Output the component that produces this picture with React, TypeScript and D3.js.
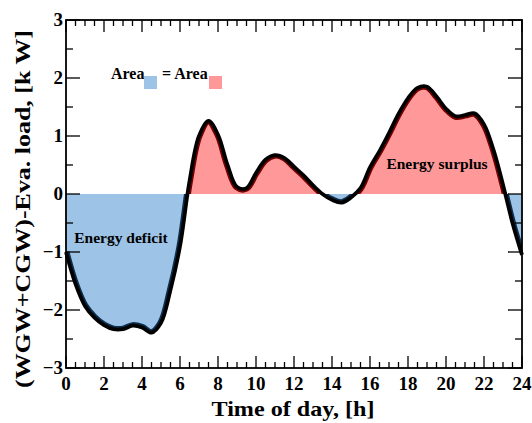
import { useMemo } from "react";
import * as d3 from "d3";

const hours = [
  0, 0.5, 1, 1.5, 2, 2.5, 3, 3.5, 4, 4.5, 5, 5.5, 6, 6.5, 7, 7.5, 8, 8.5, 9, 9.5, 10, 10.5, 11, 11.5,
  12, 12.5, 13, 13.5, 14, 14.5, 15, 15.5, 16, 16.5, 17, 17.5, 18, 18.5, 19, 19.5, 20, 20.5, 21, 21.5,
  22, 22.5, 23, 23.5, 24,
];
const loadKW = [
  -1.0, -1.55, -1.93, -2.13, -2.26, -2.33, -2.33, -2.27, -2.3, -2.39, -2.22, -1.65, -0.9, 0.22, 1.0,
  1.26, 1.02, 0.5, 0.12, 0.1, 0.36, 0.59, 0.67, 0.62, 0.47, 0.32, 0.15, 0.0, -0.1, -0.15, -0.06, 0.1,
  0.46, 0.74, 1.05, 1.38, 1.65, 1.83, 1.85, 1.68, 1.47, 1.34, 1.36, 1.39, 1.2, 0.76, 0.16, -0.5, -1.05,
];
const xTicks = [0, 2, 4, 6, 8, 10, 12, 14, 16, 18, 20, 22, 24];
const yTicks = [-3, -2, -1, 0, 1, 2, 3];

const W = 532;
const H = 423;
const m = { left: 66, right: 10, top: 20, bottom: 55 };
const BLUE = "#9dc3e6";
const RED = "#ff9999";
const FONT = "'Liberation Serif', 'Times New Roman', serif";

export default function App() {
  const x = useMemo(() => d3.scaleLinear().domain([0, 24]).range([m.left, W - m.right]), []);
  const y = useMemo(() => d3.scaleLinear().domain([-3, 3]).range([H - m.bottom, m.top]), []);
  const pts = hours.map((h, i) => [h, loadKW[i]] as [number, number]);

  const area = d3
    .area<[number, number]>()
    .x((d) => x(d[0]))
    .y0(y(0))
    .y1((d) => y(d[1]))
    .curve(d3.curveCatmullRom.alpha(0.5));
  const line = d3
    .line<[number, number]>()
    .x((d) => x(d[0]))
    .y((d) => y(d[1]))
    .curve(d3.curveCatmullRom.alpha(0.5));

  const areaD = area(pts) ?? "";
  const lineD = line(pts) ?? "";
  const x0 = x(0), x1 = x(24), yT = y(3), yB = y(-3), yZ = y(0);
  const xMinor = d3.range(0, 24.01, 0.5).filter((v) => v % 2 !== 0);
  const yMinor = d3.range(-3, 3.01, 0.5).filter((v) => v % 1 !== 0);

  return (
    <svg width={W} height={H} style={{ position: "absolute", left: 0, top: 0 }} fontFamily={FONT}>
      <defs>
        <clipPath id="above">
          <rect x={x0} y={yT} width={x1 - x0} height={yZ - yT} />
        </clipPath>
        <clipPath id="below">
          <rect x={x0} y={yZ} width={x1 - x0} height={yB - yZ} />
        </clipPath>
        <clipPath id="inside">
          <path d={areaD} />
        </clipPath>
      </defs>

      {/* fills, with a dark inner edge along the curve */}
      <g clipPath="url(#above)">
        <path d={areaD} fill={RED} />
        <path d={lineD} fill="none" stroke="#7a0000" strokeWidth={7} clipPath="url(#inside)" />
      </g>
      <g clipPath="url(#below)">
        <path d={areaD} fill={BLUE} />
        <path d={lineD} fill="none" stroke="#0c2f4f" strokeWidth={7} clipPath="url(#inside)" />
      </g>
      <path d={lineD} fill="none" stroke="#000" strokeWidth={3.8} strokeLinejoin="round" />

      {/* frame */}
      <rect x={x0} y={yT} width={x1 - x0} height={yB - yT} fill="none" stroke="#000" strokeWidth={1.8} />

      {/* x ticks */}
      {xTicks.map((t) => (
        <g key={`xt${t}`}>
          <line x1={x(t)} x2={x(t)} y1={yB} y2={yB - 12} stroke="#000" strokeWidth={1.3} />
          <line x1={x(t)} x2={x(t)} y1={yT} y2={yT + 12} stroke="#000" strokeWidth={1.3} />
          <text x={x(t)} y={390} textAnchor="middle" fontSize={19} fontWeight="bold">
            {t}
          </text>
        </g>
      ))}
      {xMinor.map((t) => (
        <g key={`xm${t}`}>
          <line x1={x(t)} x2={x(t)} y1={yB} y2={yB - 6} stroke="#000" strokeWidth={1.3} />
          <line x1={x(t)} x2={x(t)} y1={yT} y2={yT + 6} stroke="#000" strokeWidth={1.3} />
        </g>
      ))}

      {/* y ticks */}
      {yTicks.map((t) => (
        <g key={`yt${t}`}>
          <line x1={x0} x2={x0 + 14} y1={y(t)} y2={y(t)} stroke="#000" strokeWidth={1.3} />
          <line x1={x1} x2={x1 - 14} y1={y(t)} y2={y(t)} stroke="#000" strokeWidth={1.3} />
          <text x={x0 - 3} y={y(t) + 6} textAnchor="end" fontSize={19} fontWeight="bold">
            {t < 0 ? `\u2212${-t}` : t}
          </text>
        </g>
      ))}
      {yMinor.map((t) => (
        <g key={`ym${t}`}>
          <line x1={x0} x2={x0 + 7} y1={y(t)} y2={y(t)} stroke="#000" strokeWidth={1.3} />
          <line x1={x1} x2={x1 - 7} y1={y(t)} y2={y(t)} stroke="#000" strokeWidth={1.3} />
        </g>
      ))}

      {/* axis titles */}
      <text
        x={(x0 + x1) / 2 - 1}
        y={416}
        textAnchor="middle"
        fontSize={22}
        fontWeight="bold"
        textLength={163}
        lengthAdjust="spacingAndGlyphs"
      >
        Time of day, [h]
      </text>
      <text
        transform={`translate(30, 209) rotate(-90)`}
        textAnchor="middle"
        fontSize={22}
        fontWeight="bold"
        textLength={358}
        lengthAdjust="spacingAndGlyphs"
      >
        (WGW+CGW)-Eva. load, [k W]
      </text>

      {/* annotations */}
      <text x={121} y={243} textAnchor="middle" fontSize={15.5} fontWeight="bold">
        Energy deficit
      </text>
      <text x={437} y={169} textAnchor="middle" fontSize={15.5} fontWeight="bold">
        Energy surplus
      </text>
      <text x={111} y={79} fontSize={16} fontWeight="bold">
        Area
      </text>
      <rect x={144} y={76} width={13} height={13} fill={BLUE} />
      <text x={162} y={79} fontSize={16} fontWeight="bold">
        = Area
      </text>
      <rect x={209} y={76} width={13} height={13} fill={RED} />
    </svg>
  );
}
